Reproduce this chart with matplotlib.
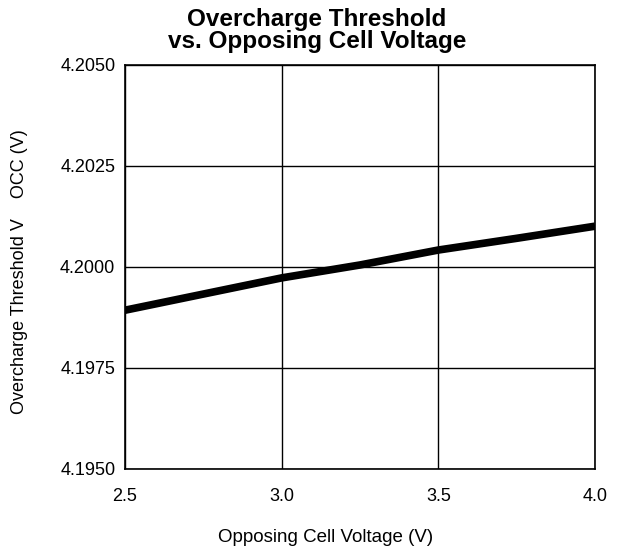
import matplotlib
matplotlib.use("Agg")
import matplotlib.pyplot as plt

# opposing cell voltage (V) vs overcharge threshold (V)
cell_voltage = [2.5, 2.75, 3.0, 3.25, 3.5, 3.75, 4.0]
threshold = [4.19893, 4.19933, 4.19973, 4.20005, 4.20042, 4.20071, 4.20101]

x_ticks = [2.5, 3.0, 3.5, 4.0]
y_ticks = [4.1950, 4.1975, 4.2000, 4.2025, 4.2050]

plt.rcParams["font.family"] = ["Liberation Sans", "DejaVu Sans"]

fig = plt.figure(figsize=(6.21, 5.48), dpi=100)
ax = fig.add_axes([0.2013, 0.1442, 0.757, 0.7372])

ax.plot(cell_voltage, threshold, color="black", linewidth=5.5, solid_capstyle="butt")

ax.set_xlim(2.5, 4.0)
ax.set_ylim(4.1950, 4.2050)
ax.set_xticks(x_ticks)
ax.set_xticklabels([f"{v:.1f}" for v in x_ticks])
ax.set_yticks(y_ticks)
ax.set_yticklabels([f"{v:.4f}" for v in y_ticks])
ax.tick_params(length=0, labelsize=13, colors="black")
ax.tick_params(axis="x", pad=14)
ax.tick_params(axis="y", pad=7)
ax.grid(True, color="black", linewidth=1.0)
for s in ax.spines.values():
    s.set_linewidth(1.2)
    s.set_color("black")

fig.text(0.51, 0.985, "Overcharge Threshold\nvs. Opposing Cell Voltage",
         ha="center", va="top", fontsize=17.5, fontweight="heavy", linespacing=0.95)
fig.text(0.525, 0.003, "Opposing Cell Voltage (V)", ha="center", va="bottom", fontsize=13.5)
fig.text(0.032, 0.505, "Overcharge Threshold V    OCC (V)", ha="center", va="center",
         rotation=90, fontsize=13)

fig.savefig("out.png", dpi=100)
